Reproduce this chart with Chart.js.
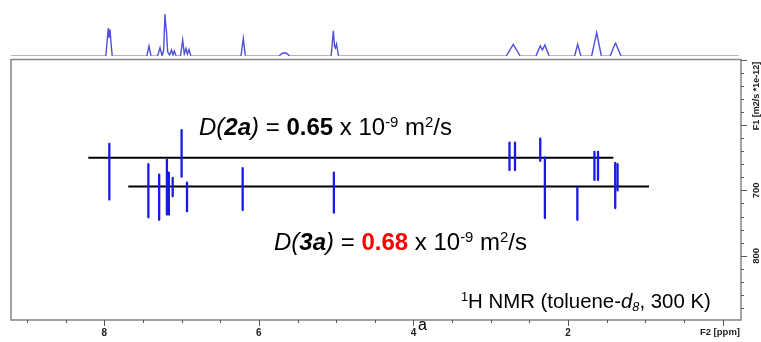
<!DOCTYPE html>
<html><head><meta charset="utf-8">
<script src="https://cdn.jsdelivr.net/npm/chart.js@4.4.0/dist/chart.umd.min.js"></script>
<style>
html,body{margin:0;padding:0;background:#fff;}
#wrap{position:relative;width:761px;height:342px;overflow:hidden;font-family:'Liberation Sans',Arial,sans-serif;}
canvas{position:absolute;left:0;top:0;}
.t{position:absolute;white-space:nowrap;color:#000;line-height:1;z-index:5;}
.t sup,.t sub{font-size:0.62em;position:relative;vertical-align:baseline;line-height:0;}
.t sup{top:-0.55em;}
.t sub{top:0.3em;}
</style></head>
<body><div id="wrap">
<canvas id="main" width="761" height="342"></canvas>
<canvas id="spec" width="761" height="62"></canvas>
<div class="t" id="t2a" style="left:199px;top:114.7px;font-size:24px;"><i>D</i><i>(</i><b><i>2a</i></b><i>)</i> = <b>0.65</b> x 10<sup>-9</sup> m<sup>2</sup>/s</div>
<div class="t" id="t3a" style="left:274px;top:229.7px;font-size:24px;"><i>D</i><i>(</i><b><i>3a</i></b><i>)</i> = <b style="color:#ff0000">0.68</b> x 10<sup>-9</sup> m<sup>2</sup>/s</div>
<div class="t" id="tnmr" style="left:461px;top:290.5px;font-size:20.4px;"><sup>1</sup>H NMR (toluene-<i>d</i><sub><i>8</i></sub>, 300 K)</div>
<div class="t" id="ta" style="left:418px;top:317px;font-size:16px;">a</div>
</div>
<script>
// ---- 1D 1H projection on top (ppm, intensity above baseline) ----
const specPpm = [9.207,7.980,7.958,7.948,7.937,7.926,7.912,7.897,
  7.450,7.422,7.395,7.310,7.279,7.252,7.232,7.215,7.203,7.195,7.180,7.155,7.130,7.112,7.094,7.070,
  7.015,6.986,6.965,6.943,6.925,6.904,6.880,
  6.232,6.202,6.175,
  5.740,5.700,5.671,5.640,5.600,
  5.065,5.037,5.022,5.010,4.996,4.970,
  2.800,2.709,2.620,
  2.415,2.360,2.333,2.300,2.245,
  1.915,1.876,1.835,
  1.695,1.630,1.570,
  1.455,1.400,1.385,1.315,
  -0.210];
const specInt = [0,0,20,28,18,26.5,12,0,
  0,10,0,0,8.3,0,6,42,30,24,4,1,6,1,5,0,
  0,16,2,7.5,2,6.5,0,
  0,17.7,0,
  0,2.5,3.2,2.5,0,
  0,25.3,10,8,12,0,
  0,11.7,0,
  0,10,6,11,0,
  0,11.7,0,
  0,23.3,0,
  0,11,12.7,0,
  0];

// ---- DOSY cross peaks: F2 ppm, F1 diffusion extent (m2/s *1e-12) ----
const contourPpm    = [7.935,7.43,7.29,7.19,7.165,7.115,7.00,6.93,6.21,5.03,2.758,2.687,2.36,2.30,1.88,1.659,1.613,1.39,1.36];
const contourTop    = [629,660,676,653,673,681,608,688,666,673,627,627,621,650,696,641,641,658,660];
const contourBottom = [714,741,745,737,737,709,679,732,730,734,669,669,655,742,745,684,684,727,700];

// ---- diffusion reference lines ----
const lineD    = [650, 694];
const lineFrom = [8.207, 7.69];
const lineTo   = [1.415, 0.953];

// ---- axis tick labels ----
const xLabelValues = [8, 6, 4, 2];
const xLabels = ['8', '6', '4', '2'];
const yLabelValues = [700, 800];
const yLabels = ['700', '800'];
const xTitle = 'F2 [ppm]';
const yTitle = 'F1 [m2/s *1e-12]';

const X_MIN = -0.237, X_MAX = 9.207;
const AXIS_FAMILY = "'Liberation Sans Narrow','Liberation Sans',Arial,sans-serif";

const datasets = [];
for (let i = 0; i < contourPpm.length; i++) {
  datasets.push({
    data: [{x: contourPpm[i], y: contourTop[i]}, {x: contourPpm[i], y: contourBottom[i]}],
    showLine: true, borderColor: 'rgb(25,25,230)', borderWidth: 2.3,
    borderCapStyle: 'round', pointRadius: 0
  });
}
for (let i = 0; i < lineD.length; i++) {
  datasets.push({
    data: [{x: lineFrom[i], y: lineD[i]}, {x: lineTo[i], y: lineD[i]}],
    showLine: true, borderColor: '#000', borderWidth: 2, pointRadius: 0
  });
}

const framePlugin = {
  id: 'frame',
  afterDraw(chart) {
    const ctx = chart.ctx, a = chart.chartArea;
    const xs = chart.scales.x, ys = chart.scales.y;
    ctx.save();
    ctx.strokeStyle = '#858585';
    ctx.lineWidth = 1.5;
    ctx.strokeRect(a.left, a.top, a.right - a.left, a.bottom - a.top);
    ctx.lineWidth = 1;
    ctx.strokeStyle = '#555';
    xs.ticks.forEach(t => {
      const px = Math.round(xs.getPixelForValue(t.value)) + 0.5;
      const len = (t.value % 2 === 0) ? 6 : 3;
      ctx.beginPath(); ctx.moveTo(px, a.bottom); ctx.lineTo(px, a.bottom + len); ctx.stroke();
    });
    ys.ticks.forEach(t => {
      const py = Math.round(ys.getPixelForValue(t.value)) + 0.5;
      const len = (t.value % 100 === 0) ? 6 : 3;
      ctx.beginPath(); ctx.moveTo(a.right, py); ctx.lineTo(a.right + len, py); ctx.stroke();
    });
    ctx.fillStyle = '#222';
    ctx.font = "bold 9.5px " + AXIS_FAMILY;
    ctx.textAlign = 'center';
    ctx.textBaseline = 'middle';
    yLabelValues.forEach((v, i) => {
      const py = ys.getPixelForValue(v);
      ctx.save(); ctx.translate(756.5, py); ctx.rotate(-Math.PI / 2);
      ctx.fillText(yLabels[i], 0, 0); ctx.restore();
    });
    ctx.font = "bold 9px " + AXIS_FAMILY;
    ctx.save(); ctx.translate(756.5, 96); ctx.rotate(-Math.PI / 2);
    ctx.fillText(yTitle, 0, 0); ctx.restore();
    ctx.textAlign = 'right';
    ctx.font = "bold 9.5px " + AXIS_FAMILY;
    ctx.fillText(xTitle, 740, 332);
    ctx.restore();
  }
};

new Chart(document.getElementById('main'), {
  type: 'scatter',
  data: {datasets},
  options: {
    responsive: false, animation: false, events: [],
    layout: {padding: {left: 11, top: 59.5, right: 0, bottom: 0}},
    plugins: {legend: {display: false}, tooltip: {enabled: false}},
    scales: {
      x: {
        type: 'linear', reverse: true, min: X_MIN, max: X_MAX, position: 'bottom',
        afterFit(s) { s.height = 22; },
        grid: {display: false, drawTicks: true, tickLength: 4},
        border: {display: false},
        ticks: {
          stepSize: 0.5, includeBounds: false, autoSkip: false, maxRotation: 0, minRotation: 0,
          padding: 3, color: '#222',
          font: {family: AXIS_FAMILY, size: 10, weight: 'bold'},
          callback: v => { const i = xLabelValues.indexOf(v); return i >= 0 ? xLabels[i] : ''; }
        }
      },
      y: {
        type: 'linear', position: 'right', reverse: true, min: 500, max: 898,
        afterFit(s) { s.width = 20; },
        grid: {display: false}, border: {display: false},
        ticks: {display: false, stepSize: 20, includeBounds: false}
      }
    }
  },
  plugins: [framePlugin]
});

new Chart(document.getElementById('spec'), {
  type: 'line',
  data: {datasets: [{
    data: specPpm.map((p, i) => ({x: p, y: specInt[i]})),
    borderColor: 'rgb(150,150,225)', borderWidth: 1.4, pointRadius: 0, tension: 0, fill: false,
    segment: {borderColor: c => (c.p0.parsed.y > 0 || c.p1.parsed.y > 0) ? 'rgb(80,80,215)' : 'rgb(150,150,225)'}
  }]},
  options: {
    responsive: false, animation: false, events: [],
    layout: {padding: {left: 11, right: 20, top: 0, bottom: 6}},
    plugins: {legend: {display: false}, tooltip: {enabled: false}},
    scales: {
      x: {type: 'linear', reverse: true, min: X_MIN, max: X_MAX, display: false},
      y: {type: 'linear', min: 0, max: 56, display: false}
    }
  }
});
</script>
</body></html>
